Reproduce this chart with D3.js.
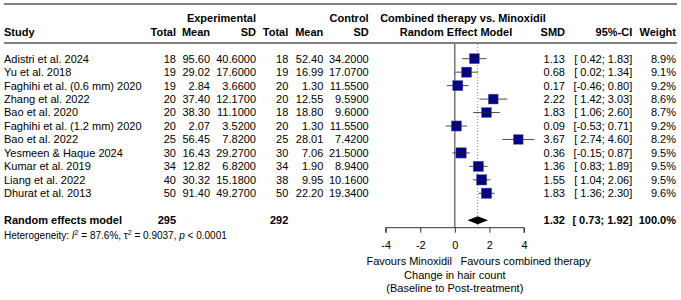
<!DOCTYPE html>
<html>
<head>
<meta charset="utf-8">
<script src="https://cdn.jsdelivr.net/npm/d3@7"></script>
<style>
  body { margin: 0; background: #fff; }
  svg { display: block; font-family: "Liberation Sans", Arial, sans-serif; }
</style>
</head>
<body>
<div id="graph"></div>
<script>
// Données
const studies = ["Adistri et al. 2024", "Yu et al. 2018", "Faghihi et al. (0.6 mm) 2020", "Zhang et al. 2022",
  "Bao et al. 2020", "Faghihi et al. (1.2 mm) 2020", "Bao et al. 2022", "Yesmeen & Haque 2024",
  "Kumar et al. 2019", "Liang et al. 2022", "Dhurat et al. 2013"];
const expTotal = [18, 19, 19, 20, 20, 20, 25, 30, 34, 40, 50];
const expMean = ["95.60", "29.02", "2.84", "37.40", "38.30", "2.07", "56.45", "16.43", "12.82", "30.32", "91.40"];
const expSD = ["40.6000", "17.6000", "3.6600", "12.1700", "11.1000", "3.5200", "7.8200", "29.2700", "6.8200", "15.1800", "49.2700"];
const ctrlTotal = [18, 19, 20, 20, 18, 20, 25, 30, 34, 38, 50];
const ctrlMean = ["52.40", "16.99", "1.30", "12.55", "18.80", "1.30", "28.01", "7.06", "1.90", "9.95", "22.20"];
const ctrlSD = ["34.2000", "17.0700", "11.5500", "9.5900", "9.6000", "11.5500", "7.4200", "21.5000", "8.9400", "10.1600", "19.3400"];
const smd = [1.13, 0.68, 0.17, 2.22, 1.83, 0.09, 3.67, 0.36, 1.36, 1.55, 1.83];
const ciLow = [0.42, 0.02, -0.46, 1.42, 1.06, -0.53, 2.74, -0.15, 0.83, 1.04, 1.36];
const ciHigh = [1.83, 1.34, 0.80, 3.03, 2.60, 0.71, 4.60, 0.87, 1.89, 2.06, 2.30];
const weights = [8.9, 9.1, 9.2, 8.6, 8.7, 9.2, 8.2, 9.5, 9.5, 9.5, 9.6];

const pooled = { smd: 1.32, low: 0.73, high: 1.92, expN: 295, ctrlN: 292 };
const xTicks = [-4, -2, 0, 2, 4];

const width = 681;
const height = 300;
const fs = 11;

const svg = d3.select("#graph").append("svg")
  .attr("width", width)
  .attr("height", height);

const x = d3.scaleLinear().domain([-4, 4]).range([385.7, 524]);
const rowY = d3.scalePoint().domain(d3.range(studies.length)).range([58.7, 193.3]);
const ySum = 220.3;
const dy = 3.9;
const fmt = d3.format(".2f");
const ci = (l, h) => `[${l < 0 ? "" : " "}${fmt(l).replace("−", "-")}; ${fmt(h)}]`;

// Lignes horizontales
svg.append("line").attr("x1", 4).attr("x2", 677).attr("y1", 4).attr("y2", 4)
  .attr("stroke", "#808080").attr("stroke-width", 2);
svg.append("line").attr("x1", 4).attr("x2", 677).attr("y1", 43).attr("y2", 43)
  .attr("stroke", "#808080").attr("stroke-width", 2);

// En-têtes
const header = [
  { t: "Experimental", x: 256, y: 18, a: "end" },
  { t: "Control", x: 368.7, y: 18, a: "end" },
  { t: "Combined therapy vs. Minoxidil", x: 463, y: 18, a: "middle" },
  { t: "Study", x: 4, y: 32, a: "start" },
  { t: "Total", x: 176, y: 32, a: "end" },
  { t: "Mean", x: 210, y: 32, a: "end" },
  { t: "SD", x: 256, y: 32, a: "end" },
  { t: "Total", x: 288.3, y: 32, a: "end" },
  { t: "Mean", x: 323.3, y: 32, a: "end" },
  { t: "SD", x: 368.7, y: 32, a: "end" },
  { t: "Random Effect Model", x: 456, y: 32, a: "middle" },
  { t: "SMD", x: 565, y: 32, a: "end" },
  { t: "95%-CI", x: 632.3, y: 32, a: "end" },
  { t: "Weight", x: 676, y: 32, a: "end" }
];
svg.append("g").selectAll("text").data(header).join("text")
  .attr("x", d => d.x).attr("y", d => d.y + dy)
  .attr("text-anchor", d => d.a)
  .attr("font-size", fs).attr("font-weight", "bold")
  .text(d => d.t);

// Colonnes
const cols = [
  { v: studies, x: 4, a: "start" },
  { v: expTotal, x: 176, a: "end" },
  { v: expMean, x: 210, a: "end" },
  { v: expSD, x: 256, a: "end" },
  { v: ctrlTotal, x: 288.3, a: "end" },
  { v: ctrlMean, x: 323.3, a: "end" },
  { v: ctrlSD, x: 368.7, a: "end" },
  { v: smd.map(fmt), x: 565, a: "end" },
  { v: ciLow.map((l, i) => ci(l, ciHigh[i])), x: 632.3, a: "end" },
  { v: weights.map(w => w.toFixed(1) + "%"), x: 676, a: "end" }
];
cols.forEach(c => {
  svg.append("g").selectAll("text").data(c.v).join("text")
    .attr("x", c.x).attr("y", (d, i) => rowY(i) + dy)
    .attr("text-anchor", c.a)
    .attr("font-size", fs)
    .style("white-space", "pre")
    .text(d => d);
});

// Ligne résumé
const sumRow = [
  { t: "Random effects model", x: 4, a: "start" },
  { t: pooled.expN, x: 176, a: "end" },
  { t: pooled.ctrlN, x: 288.3, a: "end" },
  { t: fmt(pooled.smd), x: 565, a: "end" },
  { t: ci(pooled.low, pooled.high), x: 632.3, a: "end" },
  { t: "100.0%", x: 676, a: "end" }
];
svg.append("g").selectAll("text").data(sumRow).join("text")
  .attr("x", d => d.x).attr("y", ySum + dy)
  .attr("text-anchor", d => d.a)
  .attr("font-size", fs).attr("font-weight", "bold")
  .style("white-space", "pre")
  .text(d => d.t);

// Hétérogénéité
const het = svg.append("text").attr("x", 4).attr("y", 238.6).attr("font-size", 10);
het.append("tspan").text("Heterogeneity: ");
het.append("tspan").attr("font-style", "italic").text("I");
het.append("tspan").attr("font-size", 7).attr("dy", -4).text("2");
het.append("tspan").attr("dy", 4).text(" = 87.6%, \u03c4");
het.append("tspan").attr("font-size", 7).attr("dy", -4).text("2");
het.append("tspan").attr("dy", 4).text(" = 0.9037, ");
het.append("tspan").attr("font-style", "italic").text("p");
het.append("tspan").text(" < 0.0001");

// Lignes verticales
svg.append("line").attr("x1", x(0)).attr("x2", x(0)).attr("y1", 44).attr("y2", 227.7)
  .attr("stroke", "#333").attr("stroke-width", 1);
svg.append("line").attr("x1", x(pooled.smd)).attr("x2", x(pooled.smd)).attr("y1", 44).attr("y2", 227.7)
  .attr("stroke", "#888").attr("stroke-width", 1).attr("stroke-dasharray", "1,2");

// Intervalles et carrés
const plot = svg.append("g");
smd.forEach((d, i) => {
  const s = 3.35 * Math.sqrt(weights[i]);
  plot.append("rect")
    .attr("x", x(d) - s / 2).attr("y", rowY(i) - s / 2)
    .attr("width", s).attr("height", s)
    .attr("fill", "#00008B").attr("stroke", "#6a6a9a").attr("stroke-width", 0.5);
  plot.append("line")
    .attr("x1", x(ciLow[i])).attr("x2", x(ciHigh[i]))
    .attr("y1", rowY(i)).attr("y2", rowY(i))
    .attr("stroke", "#222").attr("stroke-width", 1).attr("stroke-opacity", 0.8);
});

// Losange
plot.append("path")
  .attr("d", `M${x(pooled.low)},${ySum} L${x(pooled.smd)},${ySum - 4} L${x(pooled.high)},${ySum} L${x(pooled.smd)},${ySum + 4} Z`)
  .attr("fill", "#000");

// Axe
const axis = svg.append("g")
  .attr("transform", "translate(0,227.7)")
  .call(d3.axisBottom(x).tickValues(xTicks).tickSize(5).tickPadding(9).tickFormat(d => String(d)));
axis.selectAll("text").attr("font-size", fs).attr("font-family", "Liberation Sans, Arial, sans-serif").attr("fill", "#000");
axis.select(".domain").attr("d", `M${x(-4)},5V0H${x(4)}V5`).attr("stroke", "#333");
axis.selectAll(".tick line").attr("stroke", "#333");

// Libellés
const labels = [
  { t: "Favours Minoxidil", x: 452, y: 260.7, a: "end" },
  { t: "Favours combined therapy", x: 460.5, y: 260.7, a: "start" },
  { t: "Change in hair count", x: x(0), y: 275, a: "middle" },
  { t: "(Baseline to Post-treatment)", x: x(0), y: 287.7, a: "middle" }
];
svg.append("g").selectAll("text").data(labels).join("text")
  .attr("x", d => d.x).attr("y", d => d.y + dy)
  .attr("text-anchor", d => d.a)
  .attr("font-size", fs)
  .text(d => d.t);
</script>
</body>
</html>
